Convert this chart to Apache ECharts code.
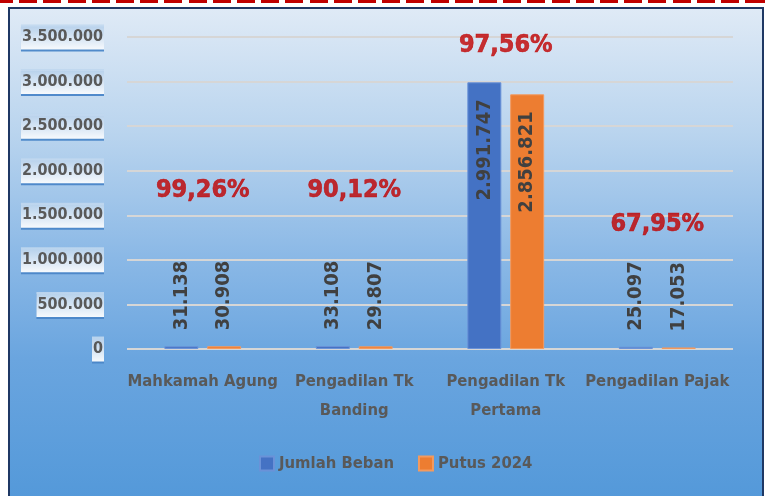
<!DOCTYPE html>
<html>
<head>
<meta charset="utf-8">
<script src="https://cdn.jsdelivr.net/npm/echarts@6/dist/echarts.min.js"></script>
<style>
  html, body { margin: 0; padding: 0; background: #fff; }
  #dash {
    position: absolute; left: 0; top: 0; width: 765px; height: 3px;
    background: repeating-linear-gradient(90deg, #c00000 0 18px, transparent 18px 24.2px);
    background-position: -5px 0;
  }
  #frame {
    position: absolute; left: 8px; top: 7px; width: 752px; height: 500px;
    border: 2px solid #1f3864;
    background: linear-gradient(180deg, #dfeaf6 0%, #b9d4ee 25%, #8ab8e6 50%, #6aa5df 70%, #5298d9 100%);
  }
  #chart { position: absolute; left: 0; top: 0; width: 765px; height: 496px; }
</style>
</head>
<body>
<div id="frame"></div>
<div id="dash"></div>
<div id="chart"></div>
<script>
// data
const categories = ['Mahkamah Agung', 'Pengadilan Tk\nBanding', 'Pengadilan Tk\nPertama', 'Pengadilan Pajak']
const jumlahBeban = [31138, 33108, 2991747, 25097]
const putus2024 = [30908, 29807, 2856821, 17053]
const persenLabel = ['99,26%', '90,12%', '97,56%', '67,95%']
const persenAnchor = [1780000, 1780000, 3410000, 1400000]
const yTicks = [0, 3500000, 500000]  // min, max, interval

const FONT = '"DejaVu Sans Condensed", "Liberation Sans Narrow", sans-serif'

function fmt(v) {
    return String(v).replace(/\B(?=(\d{3})+(?!\d))/g, '.')
}

function barData(values) {
    return values.map(function (v) {
        const big = v > 1000000
        return {
            value: v,
            label: big
                ? { position: 'insideTop', align: 'right', distance: 17 }
                : { position: 'top', align: 'left', distance: 16 }
        }
    })
}

const barLabel = {
    show: true,
    rotate: 90,
    verticalAlign: 'middle',
    color: '#404040',
    fontFamily: FONT,
    fontWeight: 'bold',
    fontSize: 20,
    formatter: function (p) { return fmt(p.value) }
}

const chart = echarts.init(document.getElementById('chart'))

const option = {
    backgroundColor: 'transparent',
    animation: false,
    grid: { left: 127, right: 32, top: 37, bottom: 147 },
    legend: {
        left: 254,
        top: 450,
        icon: 'rect',
        itemWidth: 14,
        itemHeight: 14,
        itemGap: 24,
        data: ['Jumlah Beban', 'Putus 2024'],
        textStyle: { color: '#595959', fontFamily: FONT, fontWeight: 'bold', fontSize: 16.5 }
    },
    xAxis: {
        type: 'category',
        data: categories,
        axisLine: { show: false },
        axisTick: { show: false },
        axisLabel: {
            margin: 18,
            color: '#595959',
            fontFamily: FONT,
            fontWeight: 'bold',
            fontSize: 16.5,
            lineHeight: 29,
            interval: 0
        }
    },
    yAxis: {
        type: 'value',
        min: yTicks[0],
        max: yTicks[1],
        interval: yTicks[2],
        axisLine: { show: false },
        axisTick: { show: false },
        splitLine: { lineStyle: { color: '#d6d6d6', width: 2 } },
        axisLabel: {
            margin: 23,
            color: '#595959',
            fontFamily: FONT,
            fontWeight: 'bold',
            fontSize: 16,
            padding: [5, 1, 4, 1],
            backgroundColor: {
                type: 'linear', x: 0, y: 0, x2: 0, y2: 1,
                colorStops: [
                    { offset: 0, color: 'rgba(190,214,238,0.9)' },
                    { offset: 1, color: 'rgba(255,255,255,0.95)' }
                ]
            },
            shadowColor: '#4a86c8',
            shadowOffsetY: 2,
            shadowBlur: 0,
            formatter: function (v) { return fmt(v) }
        }
    },
    series: [
        {
            name: 'Jumlah Beban',
            type: 'bar',
            barWidth: 34,
            barGap: '26%',
            data: barData(jumlahBeban),
            itemStyle: { color: '#4472c4', borderColor: '#6a92d8', borderWidth: 1 },
            label: barLabel
        },
        {
            name: 'Putus 2024',
            type: 'bar',
            barWidth: 34,
            data: barData(putus2024),
            itemStyle: { color: '#ed7d31', borderColor: '#f39a5e', borderWidth: 1 },
            label: barLabel
        },
        {
            name: 'persen',
            type: 'scatter',
            symbolSize: 0,
            silent: true,
            data: persenAnchor.map(function (v, i) { return [i, v] }),
            label: {
                show: true,
                position: 'inside',
                color: '#c00000',
                textBorderColor: '#c00000',
                textBorderWidth: 0.6,
                fontFamily: FONT,
                fontWeight: 'bold',
                fontSize: 25,
                formatter: function (p) { return persenLabel[p.dataIndex] }
            }
        }
    ]
}

chart.setOption(option)
</script>
</body>
</html>
